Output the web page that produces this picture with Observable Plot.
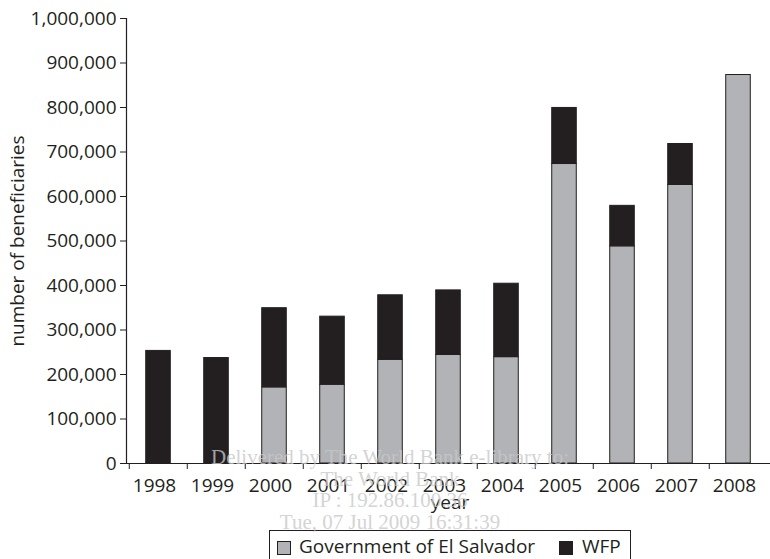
<!DOCTYPE html>
<html>
<head>
<meta charset="utf-8">
<script src="https://cdn.jsdelivr.net/npm/d3@7"></script>
<script src="https://cdn.jsdelivr.net/npm/@observablehq/plot@0.6"></script>
<style>
  body { margin: 0; background: #fff; }
  #wrap { position: relative; width: 770px; height: 559px; overflow: hidden; font-family: "Open Sans", sans-serif; color: #231f20; }
  #legend { position: absolute; left: 269px; top: 530px; width: 362px; height: 36px; border: 1px solid #231f20; box-sizing: border-box; font-size: 19px; }
  .sw { position: absolute; top: 10px; width: 14px; height: 14px; box-sizing: border-box; border: 1px solid #231f20; }
  .lt { position: absolute; top: 2px; white-space: nowrap; }
  #wm { position: absolute; left: 190px; top: 447px; width: 400px; text-align: center; font-family: "Liberation Serif", serif; font-size: 21px; line-height: 21.5px; color: rgba(200,200,200,0.8); pointer-events: none; }
</style>
</head>
<body>
<div id="wrap">
  <div id="chart"></div>
  <div id="legend"></div>
  <div id="wm">Delivered by The World Bank e-library to:<br>The World Bank<br>IP : 192.86.100.36<br>Tue, 07 Jul 2009 16:31:39</div>
</div>
<script>
const years = ["1998","1999","2000","2001","2002","2003","2004","2005","2006","2007","2008"];
const series = ["Government of El Salvador", "WFP"];
const colors = ["#b1b3b6", "#231f20"];
const government = [0, 0, 171000, 177000, 233000, 244000, 239000, 673000, 488000, 626000, 873000];
const wfp = [253000, 237000, 178000, 153000, 145000, 145000, 165000, 126000, 91000, 92000, 0];
const yTicks = [0, 100000, 200000, 300000, 400000, 500000, 600000, 700000, 800000, 900000, 1000000];

const rows = [];
years.forEach((yr, i) => {
  if (government[i] > 0) rows.push({year: yr, series: series[0], value: government[i]});
  if (wfp[i] > 0) rows.push({year: yr, series: series[1], value: wfp[i]});
});

const W = 770, H = 528, ML = 126, MR = 1;
const step = (W - ML - MR) / years.length;
const barW = 25;
const inset = (step - barW) / 2;
const FS = 19;

const chart = Plot.plot({
  width: W,
  height: H,
  marginLeft: ML,
  marginRight: MR,
  marginTop: 18,
  marginBottom: 65,
  style: {fontFamily: "Open Sans, sans-serif", fontSize: FS + "px", color: "#231f20", background: "#fff"},
  x: {type: "band", domain: years, padding: 0, axis: null},
  y: {domain: [0, 1000000], axis: null},
  color: {domain: series, range: colors},
  marks: [
    Plot.barY(rows, Plot.stackY({order: null}, {
      x: "year", y: "value", fill: "series",
      stroke: "#231f20", strokeWidth: 1,
      insetLeft: inset, insetRight: inset
    })),
    Plot.frame({anchor: "left", stroke: "#231f20", strokeWidth: 1.2}),
    Plot.frame({anchor: "bottom", stroke: "#231f20", strokeWidth: 1.2}),
    Plot.axisY({ticks: yTicks, tickFormat: d3.format(","), tickSize: 6, tickPadding: 4, label: null, stroke: "#231f20", fill: "#231f20", fontSize: FS}),
    Plot.axisX({tickSize: 6, dx: -step / 2, tickFormat: () => "", label: null, stroke: "#231f20"}),
    Plot.axisX({tickSize: 0, tickPadding: 15, dx: -4, label: null, fill: "#231f20", fontSize: FS}),
    Plot.text(["number of beneficiaries"], {frameAnchor: "left", textAnchor: "middle", rotate: -90, dx: -109, fontSize: FS, fill: "#231f20"}),
    Plot.text(["year"], {frameAnchor: "bottom", dy: 45, dx: 2, fontSize: FS, fill: "#231f20"})
  ]
});
document.getElementById("chart").appendChild(chart);

const legend = document.getElementById("legend");
const pos = [{sw: 7, tx: 29}, {sw: 289, tx: 312}];
series.forEach((s, i) => {
  const sw = document.createElement("div");
  sw.className = "sw";
  sw.style.left = pos[i].sw + "px";
  sw.style.background = colors[i];
  legend.appendChild(sw);
  const t = document.createElement("div");
  t.className = "lt";
  t.style.left = pos[i].tx + "px";
  t.textContent = s;
  legend.appendChild(t);
});
</script>
</body>
</html>
